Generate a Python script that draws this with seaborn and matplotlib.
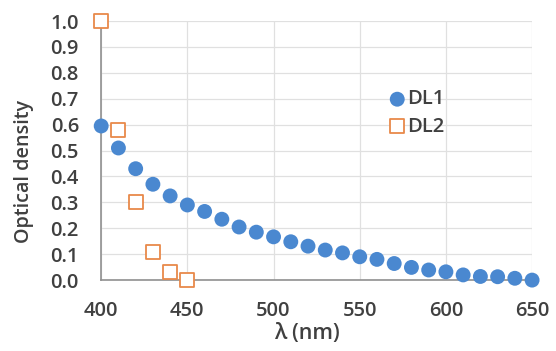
import matplotlib
matplotlib.use("Agg")
import matplotlib.pyplot as plt
import seaborn as sns
import pandas as pd

# wavelengths (nm)
wl_dl1 = [400, 410, 420, 430, 440, 450, 460, 470, 480, 490, 500, 510, 520,
          530, 540, 550, 560, 570, 580, 590, 600, 610, 620, 630, 640, 650]
od_dl1 = [0.595, 0.51, 0.43, 0.37, 0.325, 0.29, 0.265, 0.235, 0.205, 0.185,
          0.167, 0.148, 0.131, 0.116, 0.105, 0.09, 0.08, 0.064, 0.049, 0.039,
          0.032, 0.02, 0.014, 0.013, 0.007, 0.0]
wl_dl2 = [400, 410, 420, 430, 440, 450]
od_dl2 = [1.0, 0.58, 0.30, 0.11, 0.03, 0.0]

df = pd.DataFrame({
    "wl": wl_dl1 + wl_dl2,
    "od": od_dl1 + od_dl2,
    "series": ["DL1"] * len(wl_dl1) + ["DL2"] * len(wl_dl2),
})

sns.set_theme(style="whitegrid")
plt.rcParams["font.family"] = ["Open Sans", "DejaVu Sans"]
plt.rcParams["font.weight"] = "semibold"
plt.rcParams["axes.labelweight"] = "semibold"

text_col = "#404040"
fs = 14.5
fig = plt.figure(figsize=(5.56, 3.51), dpi=100)
ax = fig.add_axes([0.182, 0.202, 0.775, 0.738])

# DL1: filled circles
sns.scatterplot(data=df[df.series == "DL1"], x="wl", y="od", ax=ax,
                color="#4a88d0", marker="o", s=115, edgecolor="none",
                label="DL1", clip_on=False, zorder=3)
# DL2: hollow squares
sns.scatterplot(data=df[df.series == "DL2"], x="wl", y="od", ax=ax,
                marker="s", s=105, facecolor="white", edgecolor="#e8894a",
                linewidth=1.3, label="DL2", clip_on=False, zorder=4)

ax.set_xlim(400, 650)
ax.set_ylim(0, 1.0)
ax.set_xticks([400, 450, 500, 550, 600, 650])
ax.set_yticks([i / 10 for i in range(11)])
ax.set_yticklabels([f"{i / 10:.1f}" for i in range(11)])
ax.tick_params(axis="both", labelsize=fs, colors="#909090", labelcolor=text_col,
               direction="in", length=4, width=1)
ax.tick_params(axis="y", pad=16)
ax.tick_params(axis="x", pad=15)
ax.grid(True, color="#e0e0e0", linewidth=0.9)

for s in ["top", "right"]:
    ax.spines[s].set_visible(False)
for s in ["left", "bottom"]:
    ax.spines[s].set_visible(True)
    ax.spines[s].set_color("#909090")
    ax.spines[s].set_linewidth(1.2)

ax.set_xlabel("λ (nm)", fontsize=15.5, color=text_col)
ax.set_ylabel("Optical density", fontsize=14.2, color=text_col)
ax.xaxis.set_label_coords(0.478, -0.165)
ax.yaxis.set_label_coords(-0.155, 0.42)

leg = ax.legend(loc="center left", bbox_to_anchor=(0.645, 0.645), frameon=False,
                fontsize=fs, handlelength=1.0, handletextpad=0.0,
                labelspacing=0.35, borderaxespad=0)
for t in leg.get_texts():
    t.set_color(text_col)

fig.savefig("out.png", dpi=100)
